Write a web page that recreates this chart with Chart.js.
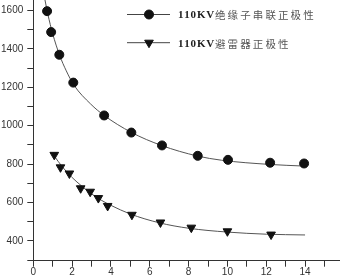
<!DOCTYPE html>
<html>
<head>
<meta charset="utf-8">
<script src="https://cdn.jsdelivr.net/npm/chart.js@4/dist/chart.umd.min.js"></script>
<style>
  html, body { margin: 0; padding: 0; background: #fff; }
  #wrap { width: 340px; height: 279px; }
</style>
</head>
<body>
<div id="wrap"><canvas id="c" width="340" height="279"></canvas></div>
<script>
// measured points
const insX = [0.71, 0.92, 1.34, 2.06, 3.65, 5.05, 6.63, 8.47, 10.03, 12.2, 13.95];
const insY = [1596, 1487, 1369, 1224, 1053, 964, 897, 843, 822, 807, 803];
const arrX = [1.08, 1.4, 1.86, 2.44, 2.93, 3.35, 3.83, 5.08, 6.55, 8.14, 10.0, 12.25];
const arrY = [848, 783, 751, 674, 656, 623, 582, 536, 496, 469, 450, 433];

// fitted curves
const fit1X = [0.6, 0.75, 1.0, 1.35, 1.7, 2.1, 2.95, 3.65, 5.05, 6.6, 8.45, 9.7, 12.2, 13.85];
const fit1Y = [1655, 1580, 1478, 1368, 1285, 1210, 1113, 1053, 965, 897, 842, 820, 798, 790];
const fit2X = [1.05, 1.5, 2.0, 2.5, 3.0, 3.5, 4.0, 5.0, 6.5, 8.0, 10.0, 12.0, 14.0];
const fit2Y = [846, 785, 730, 685, 645, 612, 585, 540, 494, 466, 446, 435, 431];

const labels = ['110KV绝缘子串联正极性', '110KV避雷器正极性'];
const xTicks = [0, 1, 2, 3, 4, 5, 6, 7, 8, 9, 10, 11, 12, 13, 14, 15];
const yTicks = [300, 400, 500, 600, 700, 800, 900, 1000, 1100, 1200, 1300, 1400, 1500, 1600];

const pts = (xs, ys) => xs.map((x, i) => ({ x: x, y: ys[i] }));
const ink = '#333';

// legend drawn as line + marker + spaced text
const legendPlugin = {
  id: 'lineLegend',
  afterDraw(chart) {
    const ctx = chart.ctx;
    const rows = [
      { y: 14.5, ds: chart.data.datasets[0] },
      { y: 42.7, ds: chart.data.datasets[1] }
    ];
    ctx.save();
    rows.forEach(r => {
      ctx.strokeStyle = '#444';
      ctx.lineWidth = 1;
      ctx.beginPath();
      ctx.moveTo(127, r.y);
      ctx.lineTo(170, r.y);
      ctx.stroke();
      ctx.fillStyle = '#111';
      ctx.strokeStyle = '#111';
      Chart.helpers.drawPoint(ctx, {
        pointStyle: r.ds.pointStyle,
        radius: r.ds.pointRadius,
        rotation: r.ds.rotation || 0,
        borderWidth: 1
      }, 149, r.y);

      ctx.textBaseline = 'middle';
      ctx.textAlign = 'left';
      let x = 178;
      for (const ch of r.ds.label) {
        if (ch.charCodeAt(0) < 128) {
          ctx.font = 'bold 11px "Liberation Serif", serif';
          ctx.fillStyle = '#222';
          ctx.fillText(ch, x, r.y + 1);
          x += ctx.measureText(ch).width + 0.8;
        } else {
          ctx.font = '10.5px "Noto Sans CJK SC"';
          ctx.fillStyle = '#555';
          ctx.fillText(ch, x, r.y + 1);
          x += 12.6;
        }
      }
    });
    ctx.restore();
  }
};

new Chart(document.getElementById('c'), {
  type: 'scatter',
  data: {
    datasets: [
      {
        label: labels[0],
        data: pts(insX, insY),
        pointStyle: 'circle',
        pointRadius: 4.5,
        backgroundColor: '#111',
        borderColor: '#111',
        showLine: false
      },
      {
        label: labels[1],
        data: pts(arrX, arrY),
        pointStyle: 'triangle',
        rotation: 180,
        pointRadius: 5,
        backgroundColor: '#111',
        borderColor: '#111',
        showLine: false
      },
      {
        label: 'fit1',
        data: pts(fit1X, fit1Y),
        showLine: true,
        pointRadius: 0,
        borderColor: '#555',
        borderWidth: 1,
        cubicInterpolationMode: 'monotone'
      },
      {
        label: 'fit2',
        data: pts(fit2X, fit2Y),
        showLine: true,
        pointRadius: 0,
        borderColor: '#555',
        borderWidth: 1,
        cubicInterpolationMode: 'monotone'
      }
    ]
  },
  options: {
    responsive: false,
    animation: false,
    layout: { padding: 0, autoPadding: false },
    plugins: {
      legend: { display: false },
      tooltip: { enabled: false }
    },
    scales: {
      x: {
        type: 'linear',
        min: 0,
        max: 15.8,
        afterBuildTicks: s => { s.ticks = xTicks.map(v => ({ value: v })); },
        afterFit: s => { s.height = 18.3; s.paddingLeft = 0; s.paddingRight = 0; },
        border: { display: true, color: ink, width: 1 },
        grid: { drawOnChartArea: false, drawTicks: true, tickLength: 6, color: ink },
        ticks: {
          padding: 0,
          maxRotation: 0,
          autoSkip: false,
          color: ink,
          font: { family: 'Liberation Sans', size: 10 },
          callback: v => (v % 2 === 0 && v <= 14 ? String(v) : '')
        }
      },
      y: {
        type: 'linear',
        min: 297,
        max: 1654,
        afterBuildTicks: s => { s.ticks = yTicks.map(v => ({ value: v })); },
        afterFit: s => { s.width = 33.3; s.paddingTop = 0; s.paddingBottom = 0; },
        border: { display: true, color: ink, width: 1 },
        grid: { drawOnChartArea: false, drawTicks: true, tickLength: 6, color: ink },
        ticks: {
          padding: 4,
          autoSkip: false,
          color: ink,
          font: { family: 'Liberation Sans', size: 10 },
          callback: v => (v % 200 === 0 && v >= 400 ? String(v) : '')
        }
      }
    }
  },
  plugins: [legendPlugin]
});
</script>
</body>
</html>
